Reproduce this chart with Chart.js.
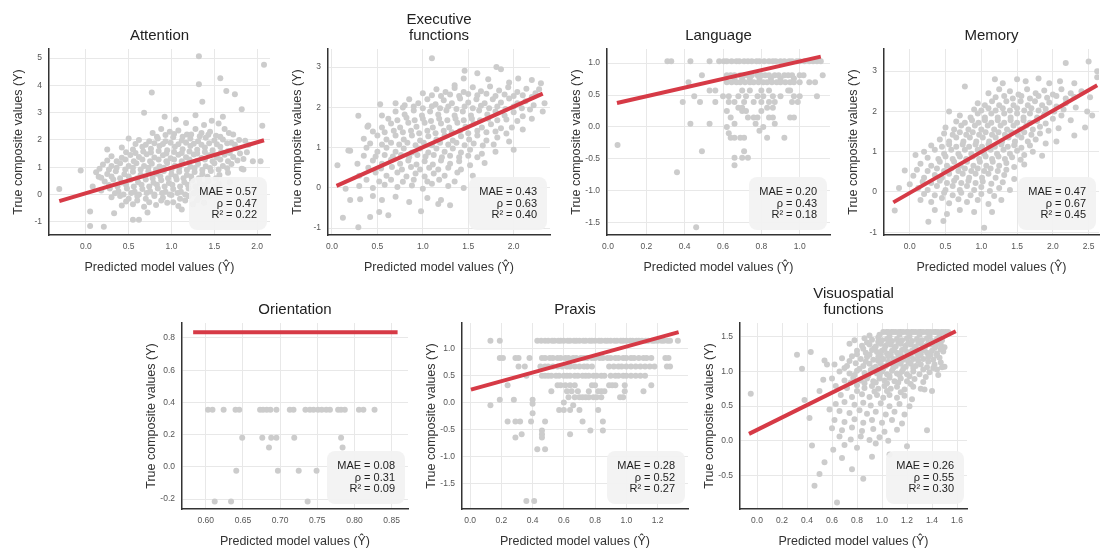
<!DOCTYPE html>
<html><head><meta charset="utf-8">
<script src="https://cdn.jsdelivr.net/npm/chart.js@4.4.1/dist/chart.umd.min.js"></script>
<style>
html,body{margin:0;padding:0;background:#fff;width:1102px;height:550px;overflow:hidden}
canvas{position:absolute;left:0;top:0}
</style></head><body>
<script>
// ---------- DATA ----------
const panelTitles = [['Attention'], ['Executive', 'functions'], ['Language'], ['Memory'], ['Orientation'], ['Praxis'], ['Visuospatial', 'functions']];
const maeValues = [0.57, 0.43, 0.20, 0.47, 0.08, 0.28, 0.26];
const rhoValues = [0.47, 0.63, 0.43, 0.67, 0.31, 0.52, 0.55];
const r2Values  = [0.22, 0.40, 0.18, 0.45, 0.09, 0.27, 0.30];

const attentionFit = [[-0.31, -0.24], [2.08, 1.99]];
const executiveFit = [[0.05, 0.05], [2.32, 2.34]];
const languageFit = [[0.047, 0.375], [1.11, 1.10]];
const memoryFit = [[-0.23, -0.26], [2.62, 2.65]];
const orientationFit = [[0.583, 0.835], [0.858, 0.835]];
const praxisFit = [[0.005, 0.24], [1.335, 1.31]];
const visuoFit = [[-0.064, 0.10], [1.59, 1.58]];

const attentionPoints = [
[0.92,2.85],[1.05,2.75],[1.17,2.62],[1.28,2.9],[1.38,2.55],[1.47,2.7],[1.55,2.6],[0.68,3.0],[1.6,2.85],
[0.78,2.25],[0.88,2.4],[0.98,2.3],[1.08,2.35],[1.18,2.2],[1.28,2.4],[1.35,2.25],[1.45,2.3],[1.52,2.15],[1.62,2.4],[1.72,2.2],
[0.5,2.05],[0.62,2.0],[0.74,1.95],[0.84,2.05],[0.93,1.95],[1.02,2.1],[1.12,1.98],[1.22,2.05],[1.31,1.95],[1.4,2.08],[1.5,1.98],[1.6,2.02],[1.7,1.9],[1.79,2.0],[1.9,1.82],
[0.42,1.72],[0.55,1.65],[0.66,1.75],[0.76,1.68],[0.86,1.78],[0.95,1.62],[1.04,1.75],[1.13,1.66],[1.22,1.78],[1.3,1.64],[1.39,1.72],[1.48,1.62],[1.57,1.75],[1.66,1.6],[1.76,1.7],[1.88,1.55],
[0.3,1.4],[0.42,1.35],[0.52,1.45],[0.62,1.38],[0.71,1.48],[0.8,1.36],[0.9,1.44],[0.99,1.33],[1.08,1.46],[1.17,1.37],[1.26,1.47],[1.35,1.34],[1.44,1.44],[1.53,1.36],[1.62,1.46],[1.72,1.38],[1.84,1.3],[1.95,1.22],[2.04,1.22],
[0.2,1.1],[0.3,1.05],[0.4,1.15],[0.5,1.05],[0.59,1.15],[0.68,1.05],[0.77,1.13],[0.86,1.03],[0.95,1.16],[1.04,1.06],[1.13,1.14],[1.22,1.02],[1.31,1.12],[1.4,1.04],[1.5,1.15],[1.6,1.05],[1.7,1.12],[1.82,0.95],
[0.12,0.82],[0.25,0.75],[0.35,0.85],[0.45,0.74],[0.55,0.84],[0.64,0.73],[0.73,0.85],[0.82,0.76],[0.91,0.86],[1.0,0.74],[1.09,0.84],[1.18,0.72],[1.27,0.83],[1.36,0.75],[1.46,0.86],[1.56,0.72],[1.66,0.8],
[0.22,0.48],[0.32,0.55],[0.42,0.44],[0.52,0.54],[0.61,0.45],[0.7,0.55],[0.79,0.43],[0.88,0.52],[0.97,0.42],[1.06,0.55],[1.15,0.45],[1.24,0.52],[1.33,0.42],[1.43,0.5],[1.55,0.4],[1.68,0.45],
[0.18,0.15],[0.28,0.22],[0.38,0.12],[0.48,0.22],[0.57,0.1],[0.66,0.2],[0.75,0.12],[0.84,0.22],[0.93,0.1],[1.02,0.2],[1.11,0.1],[1.2,0.22],[1.3,0.12],[1.42,0.18],[1.56,0.1],
[0.3,-0.1],[0.4,-0.05],[0.5,-0.15],[0.6,-0.05],[0.7,-0.15],[0.8,-0.05],[0.9,-0.12],[1.0,-0.02],[1.1,-0.15],[1.2,-0.05],[1.32,-0.12],[1.45,-0.05],
[0.42,-0.4],[0.55,-0.35],[0.68,-0.45],[0.82,-0.38],[0.95,-0.3],[1.08,-0.42],[1.25,-0.35],[1.38,-0.3],
[-0.31,0.2],[-0.06,0.88],[0.05,-0.62],[0.05,-1.15],[0.21,-1.18],[0.25,1.65],[0.77,3.74],[1.32,5.06],[1.32,4.04],[1.57,4.26],[1.64,3.79],[1.74,3.67],[1.82,3.12],[1.36,3.4],[2.08,4.75],[2.06,2.52],[1.86,1.97],[1.84,0.92],[0.55,-0.92],[0.62,-0.92],[0.33,-0.68],[0.72,-0.66],[1.12,-0.55],[1.5,0.1],[0.08,0.3],[0.15,0.65]
];
const attentionFill = [
[0.83,2.12],[0.93,2.18],[1.03,2.22],[1.13,2.12],[1.23,2.2],[1.33,2.14],[1.43,2.19],[1.57,2.12],[1.67,2.25],
[0.58,1.85],[0.7,1.82],[0.8,1.88],[0.9,1.85],[0.99,1.9],[1.08,1.84],[1.17,1.9],[1.26,1.86],[1.35,1.82],[1.44,1.88],[1.53,1.84],[1.65,1.88],[1.74,1.82],
[0.47,1.55],[0.58,1.52],[0.67,1.58],[0.76,1.54],[0.85,1.6],[0.94,1.5],[1.03,1.56],[1.12,1.52],[1.21,1.58],[1.3,1.5],[1.39,1.56],[1.48,1.5],[1.58,1.56],[1.68,1.52],[1.8,1.5],
[0.25,1.25],[0.36,1.22],[0.46,1.28],[0.56,1.22],[0.66,1.28],[0.75,1.22],[0.85,1.28],[0.94,1.22],[1.03,1.28],[1.12,1.22],[1.21,1.28],[1.3,1.24],[1.39,1.28],[1.48,1.22],[1.57,1.28],[1.66,1.22],[1.77,1.25],
[0.16,0.95],[0.27,0.92],[0.36,0.98],[0.46,0.92],[0.55,0.98],[0.64,0.92],[0.73,0.98],[0.82,0.92],[0.91,0.98],[1.0,0.92],[1.09,0.98],[1.18,0.9],[1.27,0.97],[1.36,0.9],[1.45,0.97],[1.55,0.92],[1.65,0.96],
[0.18,0.62],[0.3,0.66],[0.4,0.6],[0.5,0.66],[0.6,0.6],[0.69,0.66],[0.78,0.6],[0.87,0.66],[0.96,0.6],[1.05,0.66],[1.14,0.6],[1.23,0.66],[1.32,0.6],[1.42,0.65],[1.52,0.6],
[0.27,0.35],[0.37,0.3],[0.47,0.36],[0.56,0.3],[0.65,0.36],[0.74,0.3],[0.83,0.36],[0.92,0.3],[1.01,0.36],[1.1,0.3],[1.19,0.36],[1.28,0.3],[1.38,0.34],[1.5,0.28],
[0.34,0.05],[0.44,0.0],[0.53,0.06],[0.62,0.0],[0.71,0.06],[0.8,0.0],[0.89,0.06],[0.98,0.0],[1.07,0.06],[1.16,0.0],[1.26,0.05],[1.38,0.0],
[0.47,-0.25],[0.6,-0.22],[0.74,-0.28],[0.88,-0.22],[1.02,-0.28],[1.16,-0.22],[1.3,-0.2]
];

const executivePoints = [
[1.45,2.72],[1.6,2.85],[1.72,2.7],[1.86,2.95],[1.95,2.62],[2.05,2.72],[2.2,2.68],[1.35,2.55],[2.28,2.45],
[1.0,2.35],[1.15,2.45],[1.25,2.38],[1.35,2.48],[1.45,2.38],[1.55,2.5],[1.64,2.4],[1.74,2.52],[1.84,2.42],[1.94,2.5],[2.04,2.38],[2.14,2.46],[2.24,2.35],[2.34,2.1],
[0.7,2.1],[0.85,2.2],[0.95,2.1],[1.05,2.2],[1.14,2.08],[1.23,2.18],[1.32,2.1],[1.41,2.22],[1.5,2.12],[1.59,2.2],[1.68,2.1],[1.77,2.2],[1.86,2.12],[1.95,2.22],[2.04,2.1],[2.13,2.15],[2.22,2.05],
[0.55,1.8],[0.7,1.9],[0.8,1.82],[0.9,1.92],[0.99,1.8],[1.08,1.9],[1.17,1.82],[1.26,1.92],[1.35,1.8],[1.44,1.9],[1.53,1.8],[1.62,1.92],[1.71,1.82],[1.8,1.9],[1.9,1.8],[2.0,1.88],[2.1,1.78],[2.2,1.72],
[0.4,1.55],[0.55,1.5],[0.65,1.6],[0.75,1.5],[0.84,1.62],[0.93,1.52],[1.02,1.62],[1.11,1.5],[1.2,1.6],[1.29,1.5],[1.38,1.62],[1.47,1.52],[1.56,1.6],[1.65,1.5],[1.75,1.58],[1.86,1.48],[1.98,1.5],[2.1,1.45],
[0.35,1.22],[0.5,1.3],[0.6,1.2],[0.7,1.3],[0.79,1.2],[0.88,1.3],[0.97,1.18],[1.06,1.28],[1.15,1.2],[1.24,1.3],[1.33,1.18],[1.42,1.28],[1.51,1.2],[1.6,1.3],[1.7,1.18],[1.82,1.25],[1.95,1.15],
[0.2,0.92],[0.38,1.0],[0.5,0.9],[0.6,1.0],[0.7,0.9],[0.79,0.98],[0.88,0.88],[0.97,0.98],[1.06,0.88],[1.15,0.98],[1.24,0.9],[1.33,0.98],[1.42,0.88],[1.52,0.95],[1.65,0.85],[1.8,0.9],[2.0,0.95],
[0.28,0.6],[0.45,0.68],[0.55,0.6],[0.65,0.7],[0.75,0.6],[0.84,0.68],[0.93,0.58],[1.02,0.66],[1.11,0.58],[1.2,0.68],[1.3,0.6],[1.4,0.66],[1.52,0.56],[1.68,0.62],
[0.3,0.3],[0.48,0.38],[0.6,0.3],[0.72,0.38],[0.82,0.28],[0.92,0.36],[1.02,0.28],[1.12,0.36],[1.24,0.3],[1.38,0.38],[1.55,0.3],
[0.15,-0.02],[0.3,0.05],[0.45,0.0],[0.58,0.08],[0.72,0.02],[0.88,0.06],[1.0,-0.02],[1.1,0.1],[1.28,0.05],[1.45,0.0],
[0.2,-0.3],[0.31,-0.28],[0.45,-0.2],[0.55,-0.3],[0.7,-0.22],[0.85,-0.35],[1.05,-0.25],[1.2,-0.3],
[0.06,0.56],[0.12,-0.74],[0.29,-0.98],[0.29,1.79],[0.39,1.52],[0.18,0.93],[0.53,2.08],[1.10,3.22],[1.46,2.91],[1.81,3.0],[0.42,-0.72],[0.98,-0.58],[1.17,-0.4],[1.3,-0.43],[0.52,-0.6],[0.62,-0.68],[0.8,2.05],[2.3,2.6],[2.32,1.9]
];
const executiveFill = [
[1.1,2.3],[1.2,2.28],[1.3,2.32],[1.4,2.28],[1.5,2.33],[1.6,2.3],[1.7,2.34],[1.8,2.28],[1.9,2.32],[2.0,2.28],[2.1,2.3],[2.2,2.26],
[0.78,2.0],[0.9,2.02],[1.0,1.98],[1.1,2.03],[1.19,1.98],[1.28,2.02],[1.37,1.96],[1.46,2.02],[1.55,1.98],[1.64,2.04],[1.73,1.98],[1.82,2.02],[1.91,1.96],[2.0,2.02],[2.09,1.98],[2.18,1.95],
[0.62,1.72],[0.72,1.68],[0.82,1.74],[0.91,1.68],[1.0,1.72],[1.09,1.66],[1.18,1.72],[1.27,1.68],[1.36,1.72],[1.45,1.68],[1.54,1.72],[1.63,1.68],[1.72,1.72],[1.82,1.68],[1.92,1.7],[2.04,1.66],
[0.45,1.4],[0.58,1.38],[0.68,1.42],[0.78,1.38],[0.87,1.42],[0.96,1.36],[1.05,1.42],[1.14,1.36],[1.23,1.42],[1.32,1.38],[1.41,1.42],[1.5,1.36],[1.6,1.42],[1.7,1.38],[1.8,1.4],[1.92,1.35],
[0.42,1.1],[0.55,1.08],[0.65,1.12],[0.74,1.08],[0.83,1.12],[0.92,1.06],[1.01,1.12],[1.1,1.06],[1.19,1.12],[1.28,1.08],[1.37,1.12],[1.46,1.06],[1.56,1.1],[1.66,1.05],[1.78,1.08],
[0.35,0.8],[0.48,0.78],[0.58,0.82],[0.67,0.78],[0.76,0.82],[0.85,0.76],[0.94,0.82],[1.03,0.78],[1.12,0.82],[1.21,0.76],[1.3,0.8],[1.4,0.76],[1.5,0.8],[1.6,0.76],
[0.4,0.5],[0.54,0.48],[0.66,0.52],[0.77,0.46],[0.87,0.52],[0.97,0.46],[1.07,0.5],[1.17,0.46],[1.28,0.5],[1.42,0.46],
[0.38,0.2],[0.52,0.16],[0.65,0.2],[0.78,0.15],[0.9,0.2],[1.05,0.16],[1.18,0.2],[1.35,0.16]
];

const languageRows = [
[1.03,[0.31,0.33,0.43,0.53,0.58,0.605,0.62,0.645,0.67,0.685,0.71,0.73,0.75,0.775,0.79,0.815,0.84,0.86,0.875,0.9,0.92,0.945,0.96,0.985,1.0,1.025,1.05,1.07,1.09,1.11]],
[0.81,[0.49,0.62,0.64,0.66,0.69,0.71,0.73,0.75,0.78,0.8,0.82,0.84,0.87,0.89,0.92,0.94,0.96,1.0,1.02,1.12]],
[0.76,[0.66,0.7,0.74,0.79,0.85,0.9,0.97]],
[0.70,[0.42,0.62,0.645,0.67,0.69,0.715,0.74,0.76,0.785,0.81,0.83,0.855,0.88,0.9,0.925,0.95,0.97,1.0,1.05,1.08]],
[0.57,[0.53,0.56,0.7,0.74,0.8,0.84,0.94,0.95]],
[0.48,[0.45,0.6,0.63,0.68,0.72,0.78,0.81,0.86,0.9,0.97,1.0,1.09]],
[0.39,[0.39,0.48,0.56,0.63,0.66,0.71,0.76,0.8,0.84,0.87,0.96,0.99]],
[0.30,[0.68,0.7,0.83,0.86]],
[0.25,[0.62,0.70,0.72,0.80]],
[0.15,[0.64,0.73,0.76,0.78,0.84,0.86,0.95,0.97]],
[0.05,[0.43,0.53,0.66,0.77,0.87]],
[0.0,[0.62,0.81]],
[-0.06,[0.79]],
[-0.1,[0.63]],
[-0.17,[0.64,0.66,0.69,0.71,0.83,0.92]],
[-0.28,[0.05]],
[-0.38,[0.49,0.71]],
[-0.48,[0.66,0.7,0.73]],
[-0.6,[0.66]],
[-0.71,[0.36]],
[-1.57,[0.46]]
];

const memoryPoints = [
[1.5,2.8],[1.62,2.75],[1.8,2.82],[1.95,2.7],[2.1,2.75],[2.3,2.7],[1.3,2.7],
[1.1,2.45],[1.25,2.55],[1.4,2.5],[1.52,2.42],[1.64,2.55],[1.76,2.45],[1.88,2.52],[2.0,2.42],[2.12,2.55],[2.25,2.45],[2.4,2.5],[2.52,2.35],
[0.95,2.2],[1.05,2.15],[1.15,2.25],[1.25,2.15],[1.35,2.25],[1.45,2.15],[1.55,2.25],[1.65,2.15],[1.75,2.25],[1.85,2.15],[1.95,2.22],[2.05,2.12],[2.18,2.2],[2.32,2.1],[2.48,2.0],
[0.7,1.9],[0.85,1.85],[0.95,1.95],[1.05,1.85],[1.14,1.95],[1.23,1.85],[1.32,1.95],[1.41,1.85],[1.5,1.95],[1.59,1.85],[1.68,1.95],[1.78,1.85],[1.88,1.92],[2.0,1.82],[2.12,1.9],[2.25,1.78],
[0.5,1.6],[0.62,1.55],[0.72,1.65],[0.82,1.55],[0.91,1.65],[1.0,1.55],[1.09,1.65],[1.18,1.55],[1.27,1.65],[1.36,1.55],[1.45,1.65],[1.54,1.55],[1.63,1.65],[1.72,1.55],[1.82,1.62],[1.94,1.52],[2.08,1.58],
[0.42,1.3],[0.55,1.25],[0.65,1.35],[0.75,1.25],[0.84,1.35],[0.93,1.25],[1.02,1.35],[1.11,1.25],[1.2,1.35],[1.29,1.25],[1.38,1.35],[1.47,1.25],[1.56,1.35],[1.65,1.25],[1.76,1.3],[1.9,1.2],[2.05,1.25],
[0.2,1.0],[0.35,1.05],[0.48,0.95],[0.58,1.05],[0.68,0.95],[0.77,1.05],[0.86,0.95],[0.95,1.05],[1.04,0.95],[1.13,1.05],[1.22,0.95],[1.31,1.05],[1.4,0.95],[1.5,1.02],[1.6,0.92],[1.72,1.0],[1.85,0.9],
[0.15,0.7],[0.3,0.65],[0.42,0.75],[0.52,0.65],[0.62,0.75],[0.71,0.65],[0.8,0.75],[0.89,0.65],[0.98,0.75],[1.07,0.65],[1.16,0.75],[1.25,0.65],[1.35,0.72],[1.46,0.62],[1.6,0.68],
[0.05,0.4],[0.2,0.35],[0.35,0.42],[0.45,0.35],[0.55,0.45],[0.65,0.35],[0.74,0.45],[0.83,0.35],[0.92,0.45],[1.01,0.35],[1.1,0.45],[1.2,0.35],[1.32,0.42],[1.46,0.32],
[0.12,0.1],[0.25,0.05],[0.38,0.15],[0.5,0.05],[0.6,0.15],[0.7,0.05],[0.8,0.15],[0.9,0.05],[1.0,0.12],[1.12,0.02],[1.25,0.1],[1.4,0.05],
[0.15,-0.2],[0.3,-0.25],[0.45,-0.15],[0.55,-0.28],[0.68,-0.18],[0.8,-0.25],[0.95,-0.2],[1.1,-0.3],[1.28,-0.2],
[0.35,-0.45],[0.52,-0.55],[0.7,-0.45],[0.9,-0.5],[1.15,-0.5],
[-0.21,-0.46],[-0.07,0.53],[0.0,0.19],[0.08,0.92],[0.26,-0.74],[0.47,-0.72],[1.04,-0.89],[0.77,2.62],[1.19,2.8],[2.18,3.2],[2.5,3.24],[2.62,2.85],[2.55,1.9],[2.45,1.6],[2.3,1.4],[0.55,2.0],[-0.15,0.1],[2.62,3.0]
];
const memoryFill = [
[1.2,2.35],[1.32,2.38],[1.44,2.32],[1.56,2.38],[1.68,2.32],[1.8,2.38],[1.92,2.34],[2.05,2.38],[2.18,2.32],[2.3,2.36],
[0.9,2.05],[1.0,2.02],[1.1,2.08],[1.2,2.02],[1.3,2.08],[1.4,2.02],[1.5,2.08],[1.6,2.02],[1.7,2.08],[1.8,2.02],[1.9,2.06],[2.02,2.0],[2.15,2.05],
[0.65,1.75],[0.77,1.72],[0.87,1.78],[0.96,1.72],[1.05,1.78],[1.14,1.72],[1.23,1.78],[1.32,1.72],[1.41,1.78],[1.5,1.72],[1.59,1.78],[1.68,1.72],[1.78,1.76],[1.9,1.7],
[0.48,1.45],[0.6,1.42],[0.7,1.48],[0.79,1.42],[0.88,1.48],[0.97,1.42],[1.06,1.48],[1.15,1.42],[1.24,1.48],[1.33,1.42],[1.42,1.48],[1.51,1.42],[1.6,1.48],[1.7,1.42],[1.82,1.45],
[0.3,1.15],[0.45,1.12],[0.55,1.18],[0.65,1.12],[0.74,1.18],[0.83,1.12],[0.92,1.18],[1.01,1.12],[1.1,1.18],[1.19,1.12],[1.28,1.18],[1.37,1.12],[1.46,1.16],[1.56,1.1],[1.68,1.15],
[0.25,0.85],[0.4,0.82],[0.5,0.88],[0.6,0.82],[0.7,0.88],[0.79,0.82],[0.88,0.88],[0.97,0.82],[1.06,0.88],[1.15,0.82],[1.24,0.88],[1.33,0.82],[1.43,0.86],[1.55,0.8],
[0.1,0.55],[0.25,0.52],[0.38,0.58],[0.48,0.52],[0.58,0.58],[0.68,0.52],[0.77,0.58],[0.86,0.52],[0.95,0.58],[1.04,0.52],[1.13,0.58],[1.23,0.52],[1.35,0.55],
[0.18,0.25],[0.3,0.22],[0.42,0.28],[0.52,0.22],[0.62,0.28],[0.72,0.22],[0.82,0.28],[0.92,0.22],[1.02,0.26],[1.14,0.2],[1.3,0.24],
[0.2,-0.05],[0.35,-0.08],[0.48,-0.02],[0.6,-0.08],[0.72,-0.02],[0.85,-0.08],[1.0,-0.05],[1.18,-0.1]
];

const orientationRows = [
[0.355,[0.603,0.609,0.624,0.640,0.645,0.673,0.677,0.682,0.687,0.695,0.713,0.718,0.734,0.740,0.745,0.751,0.756,0.762,0.767,0.778,0.782,0.787,0.806,0.812,0.827]],
[0.18,[0.649,0.676,0.688,0.695,0.719,0.782]],
[0.12,[0.685,0.784]],
[-0.025,[0.641,0.697,0.725,0.749]],
[-0.215,[0.612,0.634,0.737]]
];

const praxisRows = [
[1.15,[0.13,0.19,0.43,0.455,0.48,0.5,0.525,0.54,0.565,0.58,0.6,0.625,0.64,0.665,0.68,0.7,0.725,0.74,0.765,0.78,0.8,0.825,0.84,0.865,0.88,0.9,0.925,0.94,0.965,0.98,1.0,1.025,1.04,1.065,1.08,1.1,1.125,1.14,1.165,1.18,1.2,1.225,1.24,1.265,1.28,1.33]],
[0.83,[0.19,0.21,0.29,0.31,0.38,0.46,0.48,0.51,0.53,0.56,0.58,0.61,0.63,0.66,0.68,0.71,0.73,0.75,0.78,0.8,0.83,0.85,0.88,0.9,0.93,0.95,0.98,1.0,1.03,1.05,1.08,1.11,1.13,1.16,1.25,1.27]],
[0.67,[0.31,0.35,0.45,0.48,0.5,0.53,0.56,0.59,0.62,0.64,0.67,0.7,0.73,0.75,0.78,0.89,0.92,0.95,0.97,1.0,1.03,1.06,1.09,1.12,1.15,1.18,1.26,1.28]],
[0.5,[0.36,0.46,0.48,0.5,0.52,0.55,0.57,0.6,0.62,0.64,0.67,0.69,0.72,0.74,0.76,0.79,0.81,0.84,0.86,0.9,0.93,0.95,0.98,1.0,1.03,1.06,1.09,1.12]],
[0.32,[0.24,0.56,0.58,0.61,0.64,0.67,0.78,0.8,0.89,0.91,0.93,0.99,1.16]],
[0.21,[0.52,0.62,0.65,0.69,0.76,0.82,0.84,0.86,0.99,1.11]],
[0.1,[0.63,0.67,0.7,0.72,0.74,0.76,0.79,0.81,0.84,0.96,0.98]],
[0.05,[0.19,0.28,0.4]],
[0.0,[0.6]],
[-0.05,[0.13,0.66]],
[-0.02,[0.40]],
[-0.14,[0.57,0.6,0.64,0.7,0.82]],
[-0.2,[0.40]],
[-0.35,[0.24,0.29,0.32,0.39,0.48,0.72,0.85]],
[-0.52,[0.46,0.77,0.85]],
[-0.59,[0.33,0.46,0.64]],
[-0.65,[0.29,0.46]],
[-0.87,[0.43,0.48]],
[-1.83,[0.36,0.41]]
];

const visuoTopRow = [1.57,[1.01,1.035,1.05,1.075,1.09,1.11,1.135,1.15,1.17,1.195,1.21,1.235,1.25,1.27,1.295,1.31,1.33,1.355,1.37,1.39,1.415,1.43,1.45,1.475,1.49,1.51,1.53]];
const visuoPoints = [
[0.78,1.45],[0.86,1.48],[0.92,1.46],[0.97,1.49],[1.0,1.45],[1.04,1.47],[1.08,1.44],[1.12,1.47],[1.16,1.45],[1.2,1.48],[1.24,1.44],[1.28,1.47],[1.32,1.45],[1.36,1.48],[1.4,1.44],[1.44,1.47],[1.48,1.45],
[0.74,1.4],[0.84,1.37],[0.9,1.39],[0.95,1.36],[0.99,1.4],[1.03,1.37],[1.07,1.39],[1.11,1.36],[1.15,1.4],[1.19,1.37],[1.23,1.39],[1.27,1.36],[1.31,1.4],[1.35,1.37],[1.39,1.39],[1.43,1.36],[1.47,1.39],[1.5,1.35],
[0.8,1.3],[0.87,1.27],[0.92,1.31],[0.96,1.28],[1.0,1.3],[1.04,1.26],[1.08,1.3],[1.12,1.27],[1.16,1.31],[1.2,1.28],[1.24,1.3],[1.28,1.26],[1.32,1.3],[1.36,1.27],[1.4,1.3],[1.44,1.26],[1.49,1.29],
[0.68,1.19],[0.76,1.22],[0.83,1.18],[0.88,1.21],[0.93,1.17],[0.97,1.21],[1.01,1.18],[1.05,1.22],[1.09,1.18],[1.13,1.21],[1.17,1.17],[1.21,1.21],[1.25,1.18],[1.29,1.22],[1.33,1.18],[1.37,1.21],[1.41,1.17],[1.46,1.2],
[0.62,1.1],[0.72,1.08],[0.79,1.12],[0.85,1.08],[0.9,1.11],[0.95,1.07],[0.99,1.11],[1.03,1.08],[1.07,1.12],[1.11,1.08],[1.15,1.11],[1.19,1.07],[1.23,1.11],[1.27,1.08],[1.31,1.1],[1.36,1.06],[1.42,1.1],[1.5,1.07],
[0.66,1.0],[0.74,0.97],[0.8,1.01],[0.86,0.98],[0.91,1.02],[0.96,0.97],[1.0,1.0],[1.04,0.96],[1.08,1.01],[1.12,0.97],[1.16,1.0],[1.2,0.96],[1.25,1.0],[1.3,0.96],[1.38,0.99],[1.45,0.95],
[0.6,0.9],[0.7,0.87],[0.77,0.91],[0.83,0.87],[0.88,0.9],[0.93,0.86],[0.98,0.9],[1.02,0.87],[1.06,0.91],[1.1,0.86],[1.15,0.9],[1.2,0.86],[1.26,0.89],[1.33,0.85],
[0.63,0.79],[0.72,0.76],[0.8,0.8],[0.86,0.76],[0.92,0.79],[0.97,0.75],[1.02,0.79],[1.07,0.75],[1.12,0.78],[1.18,0.74],[1.25,0.78],[1.31,0.75],[1.4,0.72],
[0.67,0.66],[0.76,0.63],[0.84,0.67],[0.9,0.63],[0.96,0.66],[1.01,0.62],[1.06,0.66],[1.12,0.62],[1.18,0.65],[1.24,0.6],
[0.63,0.53],[0.7,0.56],[0.78,0.52],[0.85,0.55],[0.91,0.51],[0.99,0.54],[1.06,0.5],[1.14,0.53],[1.22,0.5],
[0.66,0.43],[0.74,0.4],[0.82,0.44],[0.88,0.39],[0.95,0.42],[1.03,0.38],[1.1,0.42],[1.18,0.38],
[0.62,0.3],[0.7,0.27],[0.78,0.31],[0.85,0.26],[0.92,0.3],[1.0,0.26],[1.08,0.3],[1.16,0.25],
[0.6,0.18],[0.68,0.15],[0.76,0.19],[0.84,0.14],[0.93,0.17],[1.02,0.13],[1.12,0.16],
[0.66,0.06],[0.75,0.02],[0.83,0.06],[0.9,0.01],[0.98,0.05],[1.05,0.0],
[0.7,-0.06],[0.8,-0.1],[0.95,-0.04],[1.06,-0.2],[1.2,-0.08],[0.61,-0.13],[0.68,-0.25],[0.76,-0.41],[0.85,-0.55],[0.92,-0.23],[0.64,-0.89],[0.44,-0.07],[0.46,-0.65],[0.5,-0.48],[0.54,-0.31],
[-0.05,0.68],[0.32,1.24],[0.36,1.04],[0.43,1.28],[0.38,0.59],[0.42,0.33],[0.53,0.88],[0.54,1.16],[0.56,1.1],[1.36,0.15],[1.34,0.74],[1.44,1.03],[1.48,1.06],[0.5,0.72],[0.58,0.45]
];
const visuoFill = [
[0.9,1.52],[0.98,1.53],[1.06,1.51],[1.14,1.53],[1.22,1.51],[1.3,1.53],[1.38,1.51],[1.46,1.52],
[0.88,1.42],[0.97,1.43],[1.05,1.41],[1.13,1.43],[1.21,1.41],[1.29,1.43],[1.37,1.41],[1.45,1.43],
[0.85,1.33],[0.94,1.34],[1.02,1.33],[1.1,1.34],[1.18,1.33],[1.26,1.34],[1.34,1.33],[1.42,1.34],[1.47,1.32],
[0.8,1.25],[0.9,1.24],[0.99,1.25],[1.07,1.24],[1.15,1.25],[1.23,1.24],[1.31,1.25],[1.39,1.24],[1.44,1.23],
[0.74,1.15],[0.87,1.14],[0.97,1.15],[1.05,1.14],[1.13,1.15],[1.21,1.14],[1.29,1.15],[1.37,1.14],[1.47,1.13],
[0.7,1.05],[0.82,1.04],[0.93,1.05],[1.01,1.04],[1.09,1.05],[1.17,1.04],[1.25,1.05],[1.33,1.03],[1.41,1.05],
[0.78,0.95],[0.89,0.94],[0.98,0.95],[1.06,0.94],[1.14,0.95],[1.22,0.93],[1.35,0.92],
[0.75,0.84],[0.86,0.83],[0.95,0.84],[1.04,0.83],[1.13,0.84],[1.23,0.82],
[0.8,0.72],[0.94,0.71],[1.04,0.72],[1.15,0.7]
];

// ---------- BUILD ----------
const rowsToPoints = rows => rows.flatMap(([y, xs]) => xs.map(x => [x, y]));
const panelPoints = [
  attentionPoints.concat(attentionFill),
  executivePoints.concat(executiveFill),
  rowsToPoints(languageRows),
  memoryPoints.concat(memoryFill),
  rowsToPoints(orientationRows),
  rowsToPoints(praxisRows),
  rowsToPoints([visuoTopRow]).concat(visuoPoints, visuoFill)
];
const panelFits = [attentionFit, executiveFit, languageFit, memoryFit, orientationFit, praxisFit, visuoFit];

// layout (plot area in page px) and axis ranges [min, max, step, decimals]
const layout = [
  {area:[49,49,270,235],  x:[-0.43,2.15,0.5,1],   y:[-1.48,5.33,1,0]},
  {area:[328,49,550,235], x:[-0.044,2.40,0.5,1],  y:[-1.17,3.45,1,0]},
  {area:[607,49,830,235], x:[-0.005,1.158,0.2,1], y:[-1.69,1.22,0.5,1]},
  {area:[884,49,1100,235],x:[-0.36,2.645,0.5,1],  y:[-1.07,3.55,1,0]},
  {area:[182,323,408,509],x:[0.568,0.872,0.05,2], y:[-0.262,0.893,0.2,1]},
  {area:[462,323,688,509],x:[-0.052,1.395,0.2,1], y:[-1.98,1.48,0.5,1]},
  {area:[740,323,967,509],x:[-0.136,1.68,0.2,1],  y:[-0.985,1.70,0.5,1]}
];

const FONT = '"Liberation Sans", Arial, Helvetica, sans-serif';
Chart.defaults.font.family = FONT;
Chart.defaults.animation = false;

const YW = 46, XH = 40, TL = 16, TPB = 5;

const statsBox = {
  id: 'statsBox',
  afterDatasetsDraw(chart, args, opts) {
    const {ctx, chartArea: a} = chart;
    const w = 78, h = 53;
    const x = a.right - 3 - w, y = a.bottom - 5 - h;
    ctx.save();
    ctx.fillStyle = 'rgba(242,242,242,0.93)';
    ctx.beginPath();
    ctx.roundRect(x, y, w, h, 8);
    ctx.fill();
    ctx.fillStyle = '#222';
    ctx.font = '11px ' + FONT;
    ctx.textAlign = 'right';
    ctx.textBaseline = 'middle';
    opts.lines.forEach((t, i) => ctx.fillText(t, a.right - 13, y + 15 + i * 11.5));
    ctx.restore();
  }
};

function fmt(v, d) {
  if (Math.abs(v) < 1e-9) v = 0;
  return Number(v).toFixed(d);
}

for (let i = 0; i < 7; i++) {
  const L = layout[i];
  const [l, t, r, b] = L.area;
  const titleH = panelTitles[i].length * TL + TPB;
  const cv = document.createElement('canvas');
  cv.width = 1102; cv.height = 550;
  document.body.appendChild(cv);
  new Chart(cv, {
    type: 'scatter',
    data: {
      datasets: [
        {
          data: panelFits[i].map(([x, y]) => ({x, y})),
          showLine: true, borderColor: 'rgb(214,58,70)', borderWidth: 4,
          borderCapStyle: 'butt', pointRadius: 0, order: 0
        },
        {
          data: panelPoints[i].map(([x, y]) => ({x, y})),
          pointRadius: 3, pointHoverRadius: 3, backgroundColor: '#cccccc',
          borderWidth: 0, order: 1
        }
      ]
    },
    options: {
      responsive: false, animation: false, events: [],
      layout: {padding: {left: l - YW, right: 1102 - r, top: t - titleH, bottom: 550 - b - XH}},
      plugins: {
        legend: {display: false}, tooltip: {enabled: false},
        title: {display: true, text: panelTitles[i], fullSize: false, color: '#222',
                font: {size: 15, weight: 'normal', lineHeight: TL + 'px'}, padding: {top: 0, bottom: TPB}},
        statsBox: {lines: ['MAE = ' + maeValues[i].toFixed(2), 'ρ = ' + rhoValues[i].toFixed(2), 'R² = ' + r2Values[i].toFixed(2)]}
      },
      scales: {
        x: {
          type: 'linear', min: L.x[0], max: L.x[1],
          afterFit(s) { s.height = XH; },
          grid: {color: '#e8e8e8', drawTicks: false},
          border: {display: true, color: '#333', width: 1.5},
          ticks: {stepSize: L.x[2], includeBounds: false, autoSkip: false, maxRotation: 0, padding: 7,
                  color: '#555', font: {size: 8.5}, callback: v => fmt(v, L.x[3])},
          title: {display: true, text: 'Predicted model values (Ŷ)', color: '#333',
                  font: {size: 12.5}, padding: {top: 0, bottom: 0}}
        },
        y: {
          type: 'linear', min: L.y[0], max: L.y[1],
          afterFit(s) { s.width = YW; },
          grid: {color: '#e8e8e8', drawTicks: false},
          border: {display: true, color: '#333', width: 1.5},
          ticks: {stepSize: L.y[2], includeBounds: false, autoSkip: false, padding: 7,
                  color: '#555', font: {size: 8.5}, callback: v => fmt(v, L.y[3])},
          title: {display: true, text: 'True composite values (Y)', color: '#333',
                  font: {size: 12.5}, padding: {top: 8, bottom: 0}}
        }
      }
    },
    plugins: [statsBox]
  });
}
</script>
</body></html>
